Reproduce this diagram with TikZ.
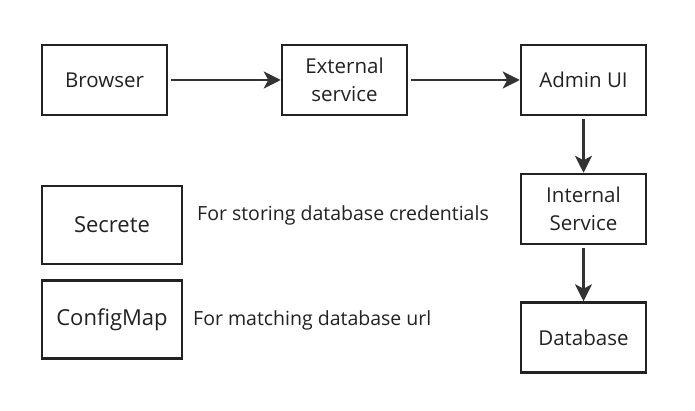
\documentclass[tikz,border=0pt]{standalone}
\usepackage{fontspec}
\setmainfont{Open Sans}
\usetikzlibrary{arrows.meta}
\definecolor{boxline}{HTML}{222222}
\definecolor{arrowline}{HTML}{333333}
\definecolor{txt}{HTML}{222222}
\begin{document}
\begin{tikzpicture}[x=1pt,y=-1pt,
  box/.style={draw=boxline,line width=2.5pt,fill=white,minimum width=125pt,minimum height=70pt,inner sep=0pt,align=center,font=\fontsize{20.5}{28.5}\selectfont,text=txt},
  widebox/.style={box,minimum width=140pt,minimum height=78pt,font=\fontsize{22}{26}\selectfont},
  note/.style={anchor=west,inner sep=0pt,font=\fontsize{19.5}{22}\selectfont,text=txt},
  conn/.style={draw=arrowline,line width=2.5pt,-{Stealth[length=17pt,width=17pt,inset=4.5pt]},shorten <=3pt}]
\useasboundingbox (0,0) rectangle (695,411);
\fill[white] (0,0) rectangle (695,411);
\node[box] (browser) at (104.5,80) {Browser};
\node[box] (external) at (344.5,80) {External\\service};
\node[box] (admin) at (583.5,80) {Admin UI};
\node[box] (internal) at (583.5,209) {Internal\\Service};
\node[box] (db) at (583.5,337.5) {Database};
\node[widebox] (secret) at (112,225) {Secrete};
\node[widebox] (config) at (112,319.5) {ConfigMap};
\node[note] (n1) at (197,215) {For storing database credentials};
\node[note] (n2) at (193,320) {For matching database url};
\draw[conn] (browser) -- (external);
\draw[conn] (external) -- (admin);
\draw[conn] (admin) -- (internal);
\draw[conn] (internal) -- (db);
\end{tikzpicture}
\end{document}
